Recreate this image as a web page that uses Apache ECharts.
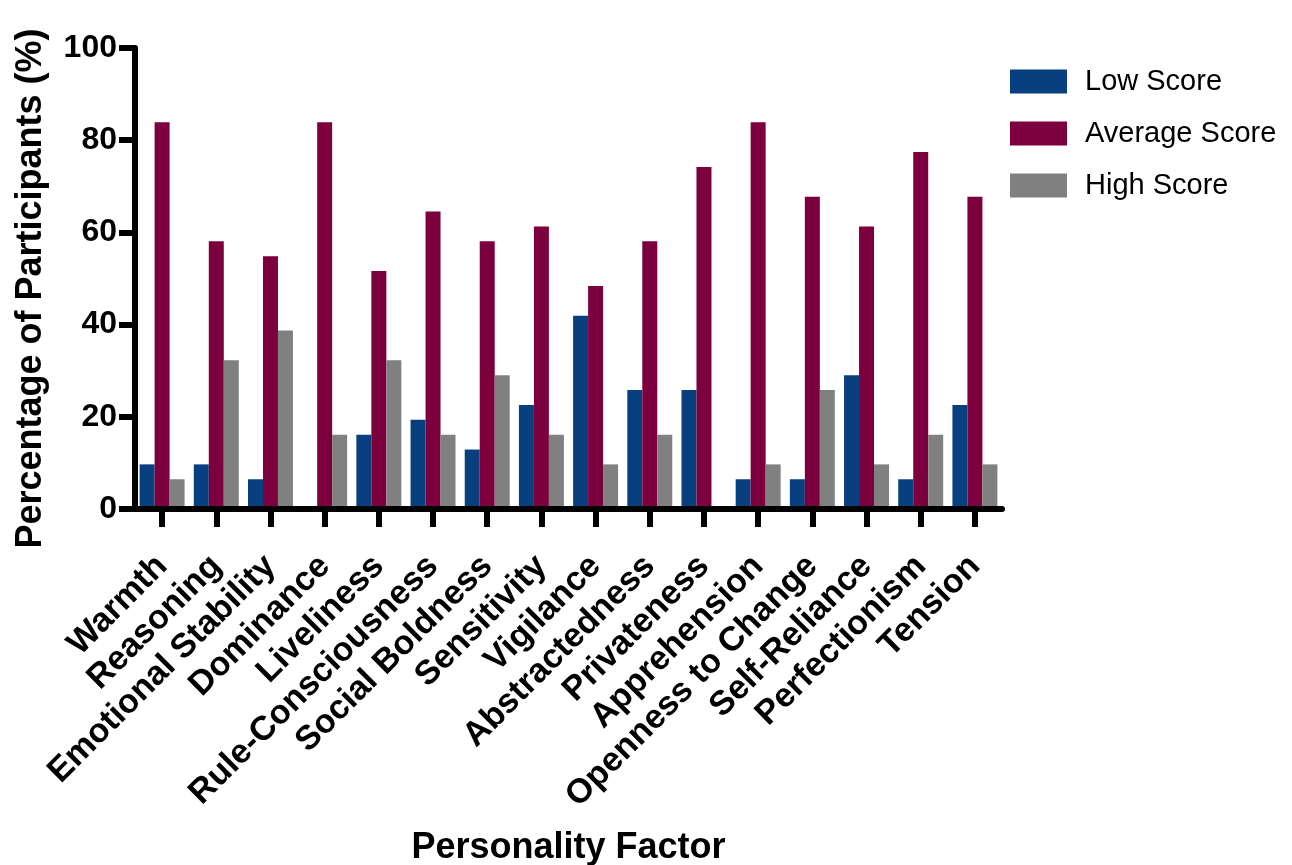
<!DOCTYPE html>
<html><head><meta charset="utf-8">
<script src="https://cdn.jsdelivr.net/npm/echarts@6/dist/echarts.min.js"></script>
<style>html,body{margin:0;padding:0;background:#fff}#c{width:1292px;height:865px}</style>
</head><body><div id="c"></div>
<script>
const categories = ["Warmth","Reasoning","Emotional Stability","Dominance","Liveliness","Rule-Consciousness","Social Boldness","Sensitivity","Vigilance","Abstractedness","Privateness","Apprehension","Openness to Change","Self-Reliance","Perfectionism","Tension"];
const lowScore = [9.68,9.68,6.45,0,16.13,19.35,12.9,22.58,41.94,25.81,25.81,6.45,6.45,29.03,6.45,22.58];
const averageScore = [83.87,58.06,54.84,83.87,51.61,64.52,58.06,61.29,48.39,58.06,74.19,83.87,67.74,61.29,77.42,67.74];
const highScore = [6.45,32.26,38.71,16.13,32.26,16.13,29.03,16.13,9.68,16.13,0,9.68,25.81,9.68,16.13,9.68];
const yTicks = [0,20,40,60,80,100];

const chart = echarts.init(document.getElementById('c'));
const font = 'Liberation Sans, Arial, Helvetica, sans-serif';
chart.setOption({
  animation: false,
  textStyle: {fontFamily: font},
  legend: {
    orient: 'vertical', left: 1005, top: 62,
    icon: 'rect',
    itemWidth: 57, itemHeight: 24, itemGap: 23,
    textStyle: {fontSize: 29, lineHeight: 29, color: '#000', fontFamily: font, padding: [0,0,0,13]},
    data: ['Low Score','Average Score','High Score']
  },
  grid: {left: 135, right: 290, top: 48, bottom: 356, containLabel: false, outerBoundsMode: 'none'},
  xAxis: {
    type: 'category', data: categories, z: 10,
    axisLine: {lineStyle: {color: '#000', width: 6}},
    axisTick: {show: true, alignWithLabel: true, length: 18, lineStyle: {width: 6, color: '#000'}},
    axisLabel: {rotate: 45, fontSize: 34, fontWeight: 'bold', color: '#000', margin: 52, interval: 0, fontFamily: font},
    name: 'Personality Factor', nameLocation: 'middle', nameGap: 321,
    nameTextStyle: {fontSize: 36, fontWeight: 'bold', color: '#000', fontFamily: font}
  },
  yAxis: {
    type: 'value', min: yTicks[0], max: yTicks[yTicks.length-1], interval: 20, z: 10,
    splitLine: {show: false},
    axisLine: {show: true, lineStyle: {color: '#000', width: 6}},
    axisTick: {show: true, length: 16, lineStyle: {width: 6, color: '#000'}},
    axisLabel: {fontSize: 32, fontWeight: 'bold', color: '#000', margin: 18, fontFamily: font},
    name: 'Percentage of Participants (%)', nameLocation: 'middle', nameGap: 86,
    nameTextStyle: {fontSize: 36, fontWeight: 'bold', color: '#000', fontFamily: font, padding: [0, 20, 0, 0]}
  },
  series: [
    {name: 'Low Score', type: 'bar', data: lowScore, itemStyle: {color: '#083f7e'}, barGap: '0%', barCategoryGap: '17%'},
    {name: 'Average Score', type: 'bar', data: averageScore, itemStyle: {color: '#7c003d'}, barGap: '0%', barCategoryGap: '17%'},
    {name: 'High Score', type: 'bar', data: highScore, itemStyle: {color: '#808080'}, barGap: '0%', barCategoryGap: '17%'}
  ]
});
</script></body></html>
